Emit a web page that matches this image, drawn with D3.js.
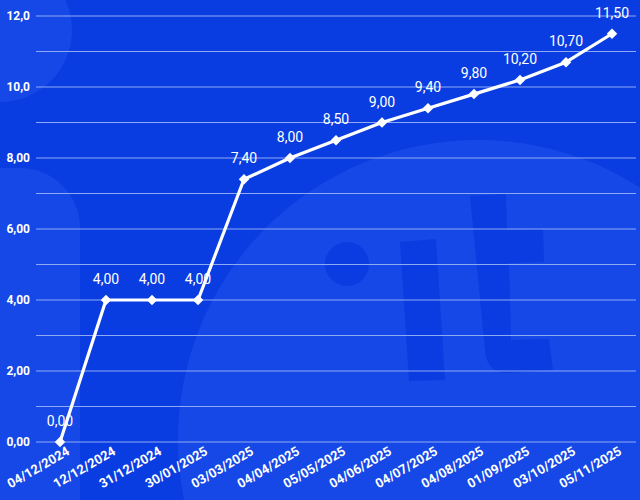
<!DOCTYPE html>
<html>
<head>
<meta charset="utf-8">
<script src="https://cdn.jsdelivr.net/npm/d3@7"></script>
<style>
  body { margin: 0; background: #0b3fe2; }
  svg { display: block; font-family: Roboto, sans-serif; }
</style>
</head>
<body>
<svg id="drawing_region"></svg>
<script>
const dates = ['04/12/2024', '12/12/2024', '31/12/2024', '30/01/2025', '03/03/2025', '04/04/2025',
    '05/05/2025', '04/06/2025', '04/07/2025', '04/08/2025', '01/09/2025', '03/10/2025', '05/11/2025'];
const values = [0, 4, 4, 4, 7.4, 8, 8.5, 9, 9.4, 9.8, 10.2, 10.7, 11.5];
const gridValues = [0, 1, 2, 3, 4, 5, 6, 7, 8, 9, 10, 11, 12];
const yTickValues = [0, 2, 4, 6, 8, 10, 12];
const yTickLabels = ['0,00', '2,00', '4,00', '6,00', '8,00', '10,0', '12,0'];

const width = 640, height = 500;

const svg = d3.select('#drawing_region')
    .attr('width', width)
    .attr('height', height);

// background decoration
const bg = svg.append('g');
bg.append('rect').attr('width', width).attr('height', height).attr('fill', '#0a3de1');
bg.append('circle').attr('cx', 0).attr('cy', 30).attr('r', 72).attr('fill', '#1548e6');
bg.append('rect').attr('x', -60).attr('y', 168).attr('width', 140).attr('height', 400).attr('rx', 60).attr('fill', '#1548e6');
bg.append('circle').attr('cx', 478).attr('cy', 440).attr('r', 300).attr('fill', '#1548e6');
bg.append('circle').attr('cx', 347).attr('cy', 264).attr('r', 22).attr('fill', '#0a3ce2');
bg.append('path').attr('d', 'M400,242 L436,239 L445,380 L409,381 Z').attr('fill', '#0a3ce2');
bg.append('path').attr('d', 'M470,196 L506,194 L507,230 L543,229 L544,262 L509,263 L511,340 L549,339 L553,370 L505,373 Q487,372 485,350 Z').attr('fill', '#0a3ce2');

const x = d3.scaleBand()
    .domain(dates)
    .range([37, 635]);

const y = d3.scaleLinear()
    .domain([0, 12])
    .range([442, 16]);

const cx = d => x(d) + x.bandwidth() / 2;

// grid lines
svg.append('g')
    .selectAll('line')
    .data(gridValues)
    .enter()
    .append('line')
    .attr('x1', 36)
    .attr('x2', 636)
    .attr('y1', d => y(d))
    .attr('y2', d => y(d))
    .attr('stroke', '#8fa9f3')
    .attr('stroke-width', 1.2);

// y axis
const yAxis = d3.axisLeft(y)
    .tickValues(yTickValues)
    .tickSize(0)
    .tickPadding(0)
    .tickFormat((d, i) => yTickLabels[i]);

svg.append('g')
    .attr('transform', 'translate(30,0)')
    .call(yAxis)
    .call(g => g.select('.domain').remove())
    .selectAll('text')
    .attr('fill', 'white')
    .style('font-size', '12px')
    .style('font-weight', 'bold')
    .style('font-family', 'Roboto, sans-serif');

// x axis
const xAxis = d3.axisBottom(x).tickSize(0).tickPadding(0);

svg.append('g')
    .attr('transform', 'translate(0,446)')
    .call(xAxis)
    .call(g => g.select('.domain').remove())
    .selectAll('text')
    .attr('fill', 'white')
    .style('font-size', '13px')
    .style('font-weight', 'bold')
    .style('font-family', 'Roboto, sans-serif')
    .style('text-anchor', 'end')
    .attr('dy', '0.7em')
    .attr('transform', 'translate(6,0) rotate(-30)');

// line
const line = d3.line()
    .x((d, i) => cx(dates[i]))
    .y(d => y(d));

svg.append('path')
    .datum(values)
    .attr('d', line)
    .attr('fill', 'none')
    .attr('stroke', 'white')
    .attr('stroke-width', 3.2)
    .attr('stroke-linejoin', 'round');

// markers
svg.append('g')
    .selectAll('path')
    .data(values)
    .enter()
    .append('path')
    .attr('d', d3.symbol().type(d3.symbolDiamond2).size(70))
    .attr('transform', (d, i) => `translate(${cx(dates[i])},${y(d)})`)
    .attr('fill', 'white');

// value labels
svg.append('g')
    .selectAll('text')
    .data(values)
    .enter()
    .append('text')
    .attr('x', (d, i) => cx(dates[i]))
    .attr('y', d => y(d) - 16)
    .attr('text-anchor', 'middle')
    .attr('fill', 'white')
    .style('font-size', '14px')
    .text(d => d.toFixed(2).replace('.', ','));
</script>
</body>
</html>
